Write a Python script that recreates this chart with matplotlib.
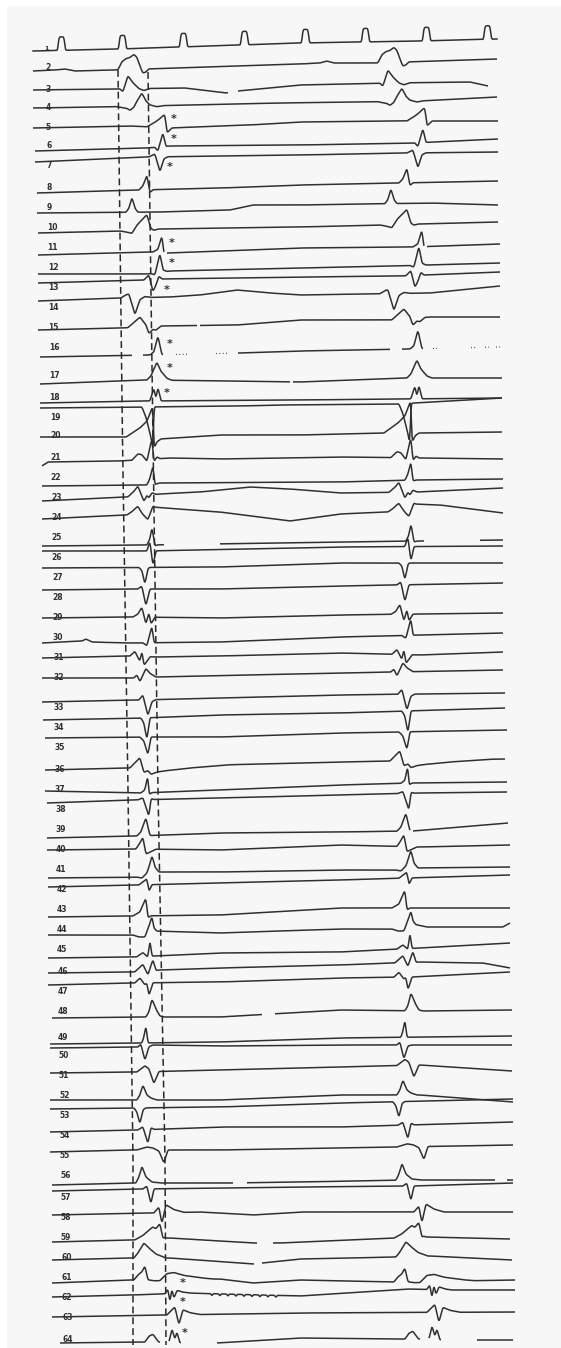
import numpy as np
import matplotlib
matplotlib.use('Agg')
import matplotlib.pyplot as plt
from matplotlib.patches import Rectangle

# ---- channel 1: stimulus marker ----
PULSE_T = [58, 119, 180, 241, 302, 362, 423, 484]
PULSE_SHAPE = [(0, 0), (0.6, 12), (1.5, 13.5), (5.5, 13.5), (6.5, 12), (7.2, 0)]
CH1_SPAN = (33, 497)
CH1_BASE = [(33, 51), (120, 49), (240, 45), (300, 43), (420, 41), (497, 39)]

# ---- electrograms 2..64 ----
CHANNELS = list(range(2, 65))

LABEL_Y = [68, 89, 107, 127, 146, 166, 187, 208, 228, 247, 267, 287, 308, 327, 348,
           376, 397, 417, 435, 457, 477, 498, 517, 538, 557, 577, 598, 618, 638, 658,
           678, 707, 728, 748, 770, 790, 810, 830, 850, 870, 890, 910, 930, 950, 972,
           991, 1012, 1037, 1055, 1075, 1095, 1115, 1136, 1155, 1176, 1197, 1217, 1237,
           1257, 1278, 1297, 1318, 1340]

T_START = [33, 33, 33, 33, 35, 35, 37, 37, 38, 38, 38, 38, 38, 38, 40, 40, 40, 40, 40,
           42, 42, 42, 42, 42, 42, 42, 42, 42, 42, 42, 42, 42, 43, 45, 45, 45, 47, 47, 47,
           48, 48, 48, 48, 48, 48, 48, 52, 50, 50, 50, 50, 50, 50, 50, 52, 52, 52, 52, 52,
           52, 52, 52, 60]
T_END = [497, 488, 497, 498, 498, 498, 498, 498, 498, 500, 500, 500, 500, 500, 500, 502,
         502, 502, 502, 503, 503, 503, 503, 503, 503, 503, 503, 503, 503, 503, 503, 505,
         505, 507, 505, 507, 507, 508, 510, 510, 510, 510, 510, 510, 510, 510, 512, 512,
         512, 512, 513, 513, 513, 513, 513, 513, 513, 510, 512, 515, 515, 515, 513]

BASELINE = [
    [(33, 71), (55, 70), (65, 69), (75, 71), (115, 70), (240, 66), (300, 64), (320, 63), (327, 61), (334, 63), (375, 63), (497, 59)],
    [(33, 90), (185, 88), (226, 93), (238, 91), (300, 85), (390, 83), (470, 82), (488, 86)],
    [(33, 108), (100, 107), (280, 103), (420, 101), (497, 97)],
    [(33, 128), (130, 126), (170, 128), (250, 125), (300, 122), (400, 121), (498, 121)],
    [(35, 151), (147, 148), (170, 146), (300, 145), (413, 143), (498, 139)],
    [(35, 162), (147, 157), (300, 155), (407, 153), (498, 152)],
    [(37, 193), (140, 190), (222, 188), (300, 185), (400, 183), (498, 181)],
    [(37, 213), (160, 212), (230, 210), (253, 205), (300, 205), (430, 203), (498, 205)],
    [(38, 233), (120, 231), (160, 229), (300, 227), (380, 225), (498, 222)],
    [(38, 255), (153, 252), (168, 253), (300, 248), (413, 247), (500, 244)],
    [(38, 274), (147, 274), (170, 271), (300, 268), (427, 265), (500, 263)],
    [(38, 283), (147, 280), (160, 279), (300, 277), (400, 276), (500, 272)],
    [(38, 301), (122, 298), (170, 297), (200, 295), (237, 290), (270, 293), (300, 295), (430, 293), (500, 286)],
    [(38, 330), (122, 328), (160, 326), (237, 325), (300, 320), (390, 320), (430, 317), (500, 317)],
    [(40, 357), (150, 355), (240, 353), (300, 351), (410, 349), (500, 347)],
    [(40, 384), (147, 380), (230, 381), (300, 382), (407, 378), (502, 378)],
    [(40, 403), (147, 401), (300, 400), (502, 398)],
    [(40, 408), (143, 407), (240, 406), (280, 405), (397, 404), (502, 398)],
    [(40, 437), (123, 437), (160, 439), (220, 435), (300, 435), (387, 433), (420, 433), (502, 432)],
    [(42, 466), (48, 462), (120, 461), (170, 458), (220, 459), (340, 457), (503, 459)],
    [(42, 486), (147, 485), (160, 483), (340, 482), (417, 480), (503, 479)],
    [(42, 501), (127, 497), (160, 494), (200, 492), (250, 487), (290, 489), (340, 493), (417, 492), (503, 488)],
    [(42, 519), (127, 515), (140, 514), (153, 507), (165, 508), (220, 512), (290, 521), (340, 514), (388, 512), (400, 511), (414, 504), (440, 505), (503, 513)],
    [(42, 546), (147, 545), (340, 542), (503, 540)],
    [(42, 551), (147, 551), (340, 547), (503, 546)],
    [(42, 568), (220, 567), (340, 563), (503, 563)],
    [(42, 590), (137, 589), (220, 589), (340, 586), (503, 583)],
    [(42, 618), (133, 617), (220, 618), (340, 615), (503, 613)],
    [(42, 643), (82, 641), (86, 639), (92, 642), (127, 643), (220, 642), (340, 637), (503, 633)],
    [(42, 658), (127, 656), (157, 657), (220, 656), (340, 653), (420, 655), (503, 652)],
    [(42, 678), (133, 678), (157, 677), (340, 673), (503, 670)],
    [(42, 702), (140, 700), (220, 698), (340, 695), (505, 693)],
    [(43, 720), (143, 718), (220, 715), (340, 713), (505, 708)],
    [(45, 738), (143, 737), (220, 737), (340, 733), (507, 730)],
    [(45, 770), (130, 768), (220, 765), (340, 762), (505, 759)],
    [(45, 791), (140, 793), (220, 790), (340, 785), (413, 783), (507, 782)],
    [(47, 803), (133, 800), (220, 798), (340, 795), (420, 793), (507, 792)],
    [(47, 838), (137, 836), (220, 833), (340, 832), (413, 831), (508, 823)],
    [(47, 850), (138, 849), (220, 850), (340, 845), (420, 847), (510, 845)],
    [(48, 878), (150, 877), (154, 872), (220, 872), (340, 870), (409, 870), (413, 868), (510, 867)],
    [(48, 887), (137, 885), (220, 883), (340, 880), (510, 875)],
    [(48, 917), (133, 916), (220, 915), (340, 908), (510, 908)],
    [(48, 935), (150, 935), (154, 931), (220, 933), (340, 929), (410, 929), (413, 924), (427, 927), (503, 927), (510, 923)],
    [(48, 958), (133, 957), (220, 953), (340, 952), (420, 948), (510, 943)],
    [(48, 973), (133, 972), (160, 970), (220, 968), (340, 965), (420, 962), (483, 963), (510, 968)],
    [(48, 985), (133, 983), (220, 982), (340, 978), (412, 977), (510, 972)],
    [(52, 1018), (147, 1017), (220, 1017), (340, 1010), (423, 1011), (512, 1010)],
    [(50, 1044), (142, 1043), (220, 1042), (340, 1038), (512, 1036)],
    [(50, 1048), (142, 1047), (153, 1045), (220, 1046), (340, 1045), (512, 1045)],
    [(50, 1073), (137, 1072), (220, 1070), (340, 1067), (420, 1065), (512, 1071)],
    [(50, 1100), (220, 1100), (340, 1095), (420, 1095), (513, 1102)],
    [(50, 1109), (133, 1108), (220, 1107), (340, 1103), (513, 1099)],
    [(50, 1132), (137, 1130), (220, 1127), (340, 1127), (513, 1122)],
    [(50, 1152), (133, 1150), (220, 1150), (340, 1148), (513, 1145)],
    [(52, 1185), (137, 1183), (230, 1183), (300, 1182), (410, 1180), (513, 1180)],
    [(52, 1191), (143, 1189), (300, 1187), (413, 1186), (513, 1183)],
    [(52, 1215), (153, 1213), (200, 1212), (253, 1215), (300, 1212), (513, 1212)],
    [(52, 1242), (133, 1240), (170, 1238), (253, 1243), (280, 1243), (397, 1238), (427, 1237), (510, 1239)],
    [(52, 1260), (133, 1258), (170, 1258), (253, 1264), (300, 1259), (398, 1257), (430, 1256), (512, 1260)],
    [(52, 1283), (133, 1280), (220, 1279), (253, 1283), (300, 1280), (394, 1282), (515, 1280)],
    [(52, 1297), (133, 1295), (187, 1293), (300, 1296), (407, 1289), (447, 1290), (515, 1290)],
    [(52, 1317), (167, 1315), (300, 1313), (515, 1312)],
    [(60, 1343), (133, 1342), (217, 1343), (300, 1338), (477, 1340), (513, 1340)],
]

ONSET_1 = [118, 120, 117, 147, 155, 149, 139, 126, 120, 153, 151, 144, 121, 128, 150,
           147, 150, 142, 126, 132, 147, 128, 127, 147, 147, 139, 138, 133, 143, 130,
           134, 139, 141, 140, 130, 141, 138, 137, 136, 137, 139, 133, 133, 137, 135,
           135, 146, 142, 138, 137, 137, 134, 138, 137, 136, 143, 154, 135, 134, 134,
           165, 167, 145]
ONSET_2 = [378, 380, 377, 407, 415, 407, 399, 385, 380, 413, 410, 406, 380, 392, 410,
           407, 411, 399, 384, 391, 405, 389, 388, 406, 405, 399, 397, 391, 402, 392,
           391, 398, 402, 399, 390, 401, 398, 397, 397, 396, 399, 392, 392, 397, 395,
           394, 405, 401, 397, 397, 397, 393, 398, 397, 396, 403, 414, 394, 396, 394,
           427, 427, 405]

# deflection (upward positive) against time after onset
COMPLEX = [
    [(0, 0), (4, 8), (8, 11), (12, 12), (16, 15), (19, 12), (22, 3), (25, -4), (28, -3), (31, 0)],
    [(0, 0), (3, -3), (8, 13), (13, 6), (19, 0), (24, -2), (30, 0)],
    [(0, 0), (10, -2), (13, -4), (17, -1), (20, 5), (25, 13), (29, 5), (33, 1), (40, -1), (46, 0)],
    [(0, 0), (8, 5), (12, 8), (16, 12), (18, 13), (20, -5), (25, 0)],
    [(0, 0), (3, -4), (8, 14), (11, 0)],
    [(0, 0), (6, 3), (11, -15), (15, -2), (19, 0)],
    [(0, 0), (4, 4), (8, 15), (11, -3), (14, 0)],
    [(0, 0), (3, 4), (6, 15), (9, 4), (12, 0)],
    [(0, 0), (5, -1), (12, -3), (17, 5), (22, 10), (27, 15), (31, 1), (34, -1), (38, 0)],
    [(0, 0), (5, 3), (9, 17), (11, -1), (14, 0)],
    [(0, 0), (4, -2), (9, 19), (12, 2), (16, 0)],
    [(0, 0), (5, 5), (9, -12), (12, -6), (15, 3), (18, 0)],
    [(0, 0), (5, 3), (8, 4), (14, -17), (19, -2), (24, 1), (30, 0)],
    [(0, 0), (6, 5), (12, 10), (18, 2), (21, -7), (25, -3), (28, -4), (33, 0)],
    [(0, 0), (4, 3), (8, 19), (12, 0)],
    [(0, 0), (4, 4), (10, 18), (14, 9), (20, 2), (25, 0)],
    [(0, 0), (4, 13), (6, 2), (8, 14), (11, 0)],
    [(0, 0), (4, -10), (9, -30), (11, -42), (12, 0)],
    [(0, 0), (14, 10), (21, 17), (27, 33), (28, -10), (31, -3), (35, 0)],
    [(0, 0), (6, 6), (10, 5), (15, -2), (20, 21), (22, -3), (25, 2), (28, 0)],
    [(0, 0), (3, 6), (6, 19), (8, -1), (11, 0)],
    [(0, 0), (6, 5), (10, 10), (16, -6), (19, 0), (21, -3), (24, 2), (28, 0)],
    [(0, 0), (5, 3), (11, 8), (16, -2), (21, -10), (26, 1), (28, 0)],
    [(0, 0), (3, 6), (5, 18), (8, -1), (11, 0)],
    [(0, 0), (3, 10), (6, -15), (9, 0)],
    [(0, 0), (3, -3), (6, -17), (9, -1), (11, 0)],
    [(0, 0), (4, 3), (8, -17), (12, 0)],
    [(0, 0), (5, 3), (9, 10), (13, -7), (16, 5), (18, -7), (22, 0)],
    [(0, 0), (4, -3), (9, 17), (11, 0)],
    [(0, 0), (5, 5), (10, -5), (12, 6), (14, -9), (20, 0)],
    [(0, 0), (3, 3), (6, -4), (12, 9), (16, 4), (22, 0)],
    [(0, 0), (4, 5), (9, -16), (13, -2), (17, 0)],
    [(0, 0), (3, -5), (6, -22), (9, 0)],
    [(0, 0), (4, -4), (8, -18), (11, 0)],
    [(0, 0), (10, 10), (14, -5), (18, -3), (21, -7), (27, -5), (35, -4), (60, -2), (100, 0)],
    [(0, 0), (4, 3), (7, 18), (8, -2), (11, 0)],
    [(0, 0), (5, 2), (11, -17), (13, 1), (16, 0)],
    [(0, 0), (4, 4), (9, 18), (13, 0)],
    [(0, 0), (4, 6), (7, 12), (10, -5), (14, -3), (20, 0)],
    [(0, 0), (5, -1), (10, 4), (15, 19), (18, 5), (22, 0)],
    [(0, 0), (4, 3), (8, 6), (10, -7), (13, 0)],
    [(0, 0), (7, 4), (13, 18), (15, -2), (18, 0)],
    [(0, 0), (6, -2), (12, -2), (19, 17), (21, 3), (24, 0)],
    [(0, 0), (6, 4), (11, -1), (13, 17), (15, 0)],
    [(0, 0), (8, 7), (13, -4), (18, 11), (21, 0)],
    [(0, 0), (5, 5), (10, -2), (12, 0), (14, -13), (18, 0)],
    [(0, 0), (3, 5), (6, 18), (10, 8), (14, 1), (18, 0)],
    [(0, 0), (2, 6), (4, 18), (6, 0)],
    [(0, 0), (3, 3), (7, -14), (11, -1), (15, 0)],
    [(0, 0), (8, 6), (12, 3), (17, -12), (22, 0)],
    [(0, 0), (3, 5), (6, 15), (10, 5), (14, 2), (20, 0)],
    [(0, 0), (3, -4), (6, -16), (9, -2), (12, 0)],
    [(0, 0), (5, 3), (10, -14), (13, 2), (16, 0)],
    [(0, 0), (10, 3), (16, 2), (22, -1), (27, -13), (31, 0)],
    [(0, 0), (3, 6), (6, 17), (10, 6), (16, 1), (25, 0)],
    [(0, 0), (4, 3), (8, -15), (11, 0)],
    [(0, 0), (5, 6), (8, -11), (12, 8), (20, 3), (30, 0)],
    [(0, 0), (8, 4), (14, 9), (18, 12), (21, 10), (25, 15), (28, 0), (30, 1), (32, 0)],
    [(0, 0), (4, 5), (10, 15), (15, 10), (22, 4), (32, 0)],
    [(0, 0), (4, 5), (8, 8), (11, 14), (14, 0), (20, -1), (26, -1), (33, 6), (40, 7), (50, 4), (70, 1), (80, 0)],
    [(0, 0), (3, 5), (5, -9), (7, 5), (9, -5), (12, 3), (18, 1), (25, 0)],
    [(0, 0), (8, 8), (12, -10), (16, 5), (23, 2), (33, 0)],
    [(0, 0), (4, 6), (8, 8), (13, 1), (15, 0), (24, 0), (27, 14), (30, 3), (32, 11), (35, -1)],
]

# pen lifts on individual channels
GAPS = {
    3: [(228, 238)],
    11: [(164, 167), (424, 427)],
    15: [(197, 200)],
    16: [(132, 143), (163, 238), (390, 402), (423, 500)],
    17: [(290, 293)],
    25: [(164, 220), (424, 480)],
    39: [(410, 413)],
    48: [(262, 275)],
    56: [(233, 247), (495, 507)],
    59: [(257, 273)],
    60: [(254, 262)],
    64: [(160, 169), (181, 217), (420, 429), (441, 477)],
}
DOTTED = {16: [(176, 188), (216, 228), (433, 437), (471, 476), (485, 489), (496, 500)]}
TICKS = {62: [212, 220, 228, 236, 244, 252, 260, 268, 276]}

STAR_T = [174, 174, 170, 172, 172, 167, 170, 170, 167, 183, 183, 185]
STAR_Y = [119, 139, 167, 243, 263, 290, 344, 368, 393, 1283, 1302, 1333]

# two reference cursors
CURSOR_A = [(118, 70), (122.5, 440), (128, 790), (133, 1160), (133, 1345)]
CURSOR_B = [(148, 72), (153, 440), (158, 790), (165, 1160), (166, 1345)]

INK = '#303030'
STEP = 0.25


def smooth(y, sigma=0.6):
    k = np.arange(-4 * sigma, 4 * sigma + STEP, STEP)
    w = np.exp(-0.5 * (k / sigma) ** 2)
    w /= w.sum()
    pad = len(w) // 2
    yp = np.concatenate([np.full(pad, y[0]), y, np.full(pad, y[-1])])
    return np.convolve(yp, w, mode='same')[pad:-pad]


def build(t0, t1, base, onsets, shape, ticks=()):
    t = np.arange(t0, t1 + STEP, STEP)
    bx, by = zip(*base)
    y = np.interp(t, bx, by)
    dt, dv = zip(*shape)
    for on in onsets:
        y -= np.interp(t - on, dt, dv, left=0, right=0)
    for tk in ticks:
        y -= np.interp(t - tk, [-1, 0, 1], [0, -3, 0], left=0, right=0)
    return t, smooth(y)


fig = plt.figure(figsize=(5.61, 13.48), dpi=100, facecolor='white')
ax = fig.add_axes([0, 0, 1, 1])
ax.set_xlim(0, 561)
ax.set_ylim(1348, 0)
ax.axis('off')
ax.add_patch(Rectangle((7, 6), 554, 1342, facecolor='#f7f7f7', edgecolor='none', zorder=0))

# stimulus channel
t, y = build(CH1_SPAN[0], CH1_SPAN[1], CH1_BASE, PULSE_T, PULSE_SHAPE)
ax.plot(t, y, color=INK, lw=1.1, solid_joinstyle='round')
ax.text(44, 48, '1', fontsize=4.5, fontweight='bold', color=INK, va='center')

for i, ch in enumerate(CHANNELS):
    t, y = build(T_START[i], T_END[i], BASELINE[i], [ONSET_1[i], ONSET_2[i]],
                 COMPLEX[i], TICKS.get(ch, ()))
    for a, b in GAPS.get(ch, []):
        y[(t > a) & (t < b)] = np.nan
    ax.plot(t, y, color=INK, lw=1.1, solid_joinstyle='round', solid_capstyle='butt')
    bx, by = zip(*BASELINE[i])
    for a, b in DOTTED.get(ch, []):
        ts = np.linspace(a, b, 5)
        ax.plot(ts, np.interp(ts, bx, by), color=INK, lw=0.8, ls=(0, (0.8, 2.2)))
    ax.text(45 + 0.28 * (ch - 2), LABEL_Y[i], str(ch), fontsize=5.5, fontweight='bold',
            color=INK, va='center', ha='left')

for cur in (CURSOR_A, CURSOR_B):
    cx, cy = zip(*cur)
    ax.plot(cx, cy, color='#2a2a2a', lw=1.1, ls=(0, (4.5, 2.6)))

for x, y in zip(STAR_T, STAR_Y):
    ax.text(x, y, '*', fontsize=8, fontweight='bold', color=INK, ha='center', va='center')

fig.savefig('out.png', dpi=100, facecolor=fig.get_facecolor())
